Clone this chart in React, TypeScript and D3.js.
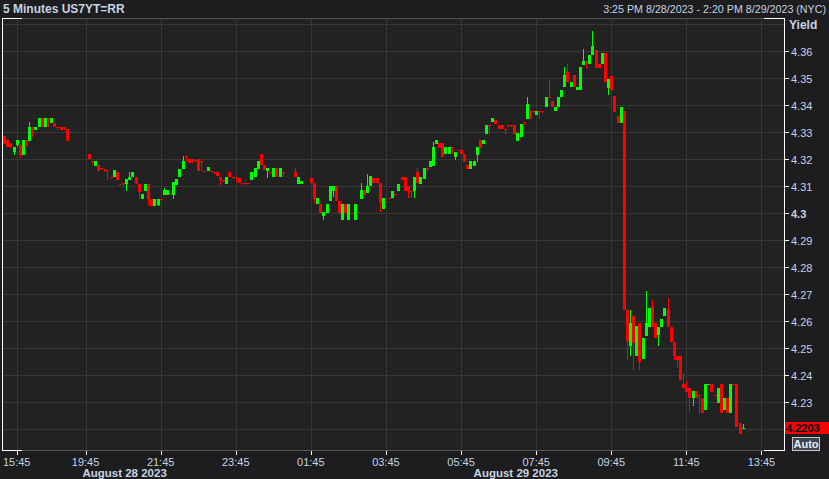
import React from "react";
import * as d3 from "d3";

const W = 829;
const H = 479;

// 5-minute bar slots (index of bar from 15:25 on 8/28)
const slot: number[] = [
  ...d3.range(0, 21),
  ...d3.range(27, 90),
  93, 94, 95,
  ...d3.range(98, 237),
];

const open: number[] = [
  4.3284,4.3271,4.3255,4.3226,4.3253,4.3253,4.3214,4.3270,4.3267,4.3320,
  4.3307,4.3320,4.3352,4.3320,4.3352,4.3333,4.3333,4.3320,4.3320,4.3320,
  4.3311,
  4.3218,4.3192,4.3174,4.3177,4.3165,4.3162,4.3160,4.3133,4.3133,4.3152,
  4.3109,4.3110,4.3107,4.3122,4.3133,4.3133,4.3107,4.3053,4.3081,4.3109,
  4.3053,4.3026,4.3030,4.3053,4.3066,4.3066,4.3075,4.3066,4.3105,4.3135,
  4.3162,4.3211,4.3200,4.3201,4.3195,4.3201,4.3192,4.3156,4.3155,4.3156,
  4.3151,4.3151,4.3135,4.3122,4.3107,4.3151,4.3132,4.3132,4.3128,4.3110,
  4.3110,4.3110,4.3122,4.3135,4.3162,4.3218,4.3179,4.3155,4.3150,4.3135,
  4.3165,4.3135,4.3150,
  4.3152,4.3107,4.3107,
  4.3128,4.3110,4.3034,4.3032,4.2988,4.2999,4.3046,4.3083,4.3099,4.3046,
  4.2973,4.3032,4.2973,4.3000,4.2973,4.3003,4.3053,4.3085,4.3075,4.3100,
  4.3128,4.3128,4.3110,4.3013,4.3042,4.3057,4.3057,4.3069,4.3081,4.3135,
  4.3135,4.3099,4.3081,4.3081,4.3152,4.3107,4.3125,4.3165,4.3172,4.3175,
  4.3255,4.3259,4.3259,4.3218,4.3218,4.3243,4.3206,4.3233,4.3233,4.3218,
  4.3177,4.3162,4.3174,4.3214,4.3271,4.3255,4.3292,4.3326,4.3336,4.3345,
  4.3326,4.3326,4.3311,4.3326,4.3326,4.3326,4.3268,4.3282,4.3336,4.3349,
  4.3377,4.3377,4.3362,4.3377,4.3377,4.3392,4.3429,4.3417,4.3377,4.3392,
  4.3429,4.3468,4.3524,4.3468,4.3513,4.3456,4.3456,4.3550,4.3565,4.3553,
  4.3587,4.3606,4.3553,4.3553,4.3593,4.3465,4.3509,4.3433,4.3358,4.3334,
  4.3379,4.2641,4.2505,4.2619,4.2468,4.2592,4.2458,4.2542,4.2577,4.2654,
  4.2593,4.2548,4.2577,4.2616,4.2644,4.2577,4.2520,4.2468,4.2468,4.2366,
  4.2350,4.2350,4.2313,4.2340,4.2325,4.2313,4.2267,4.2360,4.2366,4.2325,
  4.2294,4.2366,4.2267,4.2313,4.2257,4.2366,4.2366,4.2220,4.2198,
];

const high: number[] = [
  4.3286,4.3275,4.3258,4.3245,4.3270,4.3255,4.3270,4.3270,4.3336,4.3320,
  4.3320,4.3352,4.3352,4.3352,4.3352,4.3352,4.3333,4.3320,4.3320,4.3320,
  4.3311,
  4.3218,4.3192,4.3192,4.3177,4.3165,4.3162,4.3160,4.3133,4.3160,4.3152,
  4.3109,4.3110,4.3125,4.3150,4.3152,4.3133,4.3107,4.3069,4.3109,4.3109,
  4.3053,4.3053,4.3053,4.3053,4.3092,4.3085,4.3075,4.3114,4.3127,4.3162,
  4.3211,4.3211,4.3200,4.3201,4.3195,4.3201,4.3192,4.3156,4.3172,4.3156,
  4.3151,4.3151,4.3135,4.3122,4.3135,4.3151,4.3132,4.3132,4.3128,4.3110,
  4.3110,4.3110,4.3150,4.3168,4.3191,4.3218,4.3179,4.3166,4.3150,4.3165,
  4.3165,4.3165,4.3150,
  4.3168,4.3135,4.3120,
  4.3128,4.3110,4.3055,4.3032,4.3003,4.3032,4.3099,4.3099,4.3099,4.3046,
  4.3032,4.3032,4.3032,4.3000,4.3032,4.3003,4.3110,4.3085,4.3144,4.3137,
  4.3128,4.3128,4.3110,4.3057,4.3042,4.3057,4.3081,4.3069,4.3109,4.3135,
  4.3135,4.3099,4.3081,4.3135,4.3165,4.3135,4.3165,4.3165,4.3193,4.3262,
  4.3271,4.3259,4.3259,4.3243,4.3243,4.3243,4.3226,4.3233,4.3233,4.3218,
  4.3177,4.3193,4.3193,4.3243,4.3271,4.3271,4.3326,4.3326,4.3351,4.3345,
  4.3326,4.3326,4.3311,4.3326,4.3326,4.3326,4.3296,4.3330,4.3336,4.3429,
  4.3377,4.3377,4.3377,4.3377,4.3377,4.3429,4.3497,4.3417,4.3392,4.3429,
  4.3457,4.3540,4.3552,4.3485,4.3513,4.3468,4.3540,4.3609,4.3565,4.3587,
  4.3676,4.3606,4.3553,4.3594,4.3593,4.3497,4.3509,4.3433,4.3358,4.3392,
  4.3379,4.2641,4.2641,4.2619,4.2579,4.2592,4.2536,4.2712,4.2648,4.2678,
  4.2593,4.2577,4.2605,4.2648,4.2685,4.2577,4.2520,4.2468,4.2468,4.2405,
  4.2375,4.2350,4.2340,4.2340,4.2325,4.2313,4.2366,4.2366,4.2366,4.2325,
  4.2350,4.2366,4.2313,4.2313,4.2366,4.2366,4.2366,4.2220,4.2215,
];

const low: number[] = [
  4.3255,4.3243,4.3240,4.3215,4.3245,4.3203,4.3214,4.3245,4.3267,4.3280,
  4.3307,4.3320,4.3320,4.3320,4.3320,4.3333,4.3320,4.3307,4.3307,4.3307,
  4.3267,
  4.3199,4.3180,4.3174,4.3156,4.3160,4.3150,4.3122,4.3130,4.3133,4.3122,
  4.3105,4.3100,4.3081,4.3122,4.3133,4.3107,4.3053,4.3053,4.3081,4.3026,
  4.3026,4.3026,4.3026,4.3050,4.3066,4.3066,4.3070,4.3053,4.3105,4.3135,
  4.3162,4.3193,4.3187,4.3187,4.3190,4.3156,4.3156,4.3150,4.3155,4.3150,
  4.3145,4.3137,4.3105,4.3115,4.3107,4.3135,4.3125,4.3115,4.3110,4.3105,
  4.3108,4.3108,4.3122,4.3135,4.3162,4.3179,4.3160,4.3128,4.3145,4.3135,
  4.3135,4.3135,4.3135,
  4.3135,4.3107,4.3107,
  4.3110,4.3035,4.3034,4.2999,4.2973,4.2999,4.3046,4.3060,4.3046,4.2999,
  4.2973,4.2999,4.2973,4.2995,4.2973,4.3000,4.3053,4.3068,4.3075,4.3100,
  4.3110,4.3110,4.3004,4.3013,4.3038,4.3050,4.3057,4.3065,4.3081,4.3122,
  4.3081,4.3057,4.3057,4.3057,4.3110,4.3107,4.3125,4.3150,4.3172,4.3175,
  4.3255,4.3239,4.3206,4.3218,4.3218,4.3218,4.3197,4.3230,4.3218,4.3189,
  4.3162,4.3162,4.3174,4.3189,4.3240,4.3255,4.3292,4.3292,4.3336,4.3331,
  4.3311,4.3311,4.3292,4.3320,4.3320,4.3292,4.3268,4.3282,4.3326,4.3349,
  4.3349,4.3370,4.3362,4.3349,4.3370,4.3392,4.3429,4.3392,4.3377,4.3392,
  4.3429,4.3468,4.3485,4.3468,4.3468,4.3456,4.3456,4.3550,4.3538,4.3553,
  4.3587,4.3538,4.3538,4.3553,4.3485,4.3436,4.3456,4.3375,4.3334,4.3334,
  4.2641,4.2456,4.2468,4.2418,4.2468,4.2418,4.2458,4.2542,4.2577,4.2577,
  4.2536,4.2505,4.2577,4.2616,4.2577,4.2520,4.2455,4.2430,4.2381,4.2350,
  4.2335,4.2263,4.2285,4.2313,4.2255,4.2257,4.2267,4.2360,4.2335,4.2320,
  4.2294,4.2257,4.2267,4.2257,4.2257,4.2360,4.2207,4.2180,4.2198,
];

const close: number[] = [
  4.3255,4.3243,4.3243,4.3245,4.3270,4.3214,4.3270,4.3253,4.3319,4.3320,
  4.3320,4.3352,4.3320,4.3352,4.3352,4.3352,4.3320,4.3320,4.3307,4.3320,
  4.3267,
  4.3199,4.3192,4.3192,4.3156,4.3165,4.3162,4.3160,4.3133,4.3160,4.3122,
  4.3109,4.3110,4.3125,4.3135,4.3152,4.3107,4.3076,4.3069,4.3109,4.3053,
  4.3026,4.3053,4.3053,4.3053,4.3085,4.3085,4.3075,4.3114,4.3127,4.3162,
  4.3193,4.3211,4.3187,4.3192,4.3195,4.3156,4.3192,4.3156,4.3172,4.3156,
  4.3151,4.3137,4.3122,4.3122,4.3135,4.3135,4.3132,4.3132,4.3110,4.3110,
  4.3110,4.3110,4.3150,4.3168,4.3191,4.3179,4.3160,4.3166,4.3150,4.3165,
  4.3135,4.3165,4.3150,
  4.3135,4.3135,4.3120,
  4.3110,4.3050,4.3055,4.2999,4.3003,4.3032,4.3099,4.3099,4.3046,4.2999,
  4.3032,4.2999,4.3032,4.3000,4.3032,4.3003,4.3085,4.3068,4.3100,4.3137,
  4.3110,4.3110,4.3035,4.3057,4.3042,4.3057,4.3081,4.3069,4.3109,4.3122,
  4.3081,4.3081,4.3081,4.3135,4.3110,4.3135,4.3165,4.3165,4.3193,4.3243,
  4.3271,4.3239,4.3206,4.3243,4.3243,4.3243,4.3226,4.3233,4.3218,4.3189,
  4.3162,4.3193,4.3193,4.3243,4.3240,4.3271,4.3326,4.3326,4.3351,4.3331,
  4.3311,4.3311,4.3311,4.3326,4.3326,4.3292,4.3296,4.3330,4.3336,4.3404,
  4.3349,4.3377,4.3377,4.3377,4.3377,4.3429,4.3429,4.3392,4.3392,4.3429,
  4.3457,4.3513,4.3485,4.3485,4.3468,4.3468,4.3540,4.3565,4.3565,4.3587,
  4.3619,4.3538,4.3538,4.3594,4.3485,4.3497,4.3456,4.3375,4.3334,4.3392,
  4.2641,4.2523,4.2592,4.2517,4.2579,4.2446,4.2536,4.2592,4.2648,4.2577,
  4.2536,4.2577,4.2605,4.2648,4.2577,4.2520,4.2468,4.2455,4.2381,4.2350,
  4.2335,4.2313,4.2340,4.2313,4.2325,4.2257,4.2366,4.2366,4.2335,4.2325,
  4.2350,4.2257,4.2313,4.2257,4.2366,4.2366,4.2207,4.2180,4.2203,
];

const yTickVals = [4.36, 4.35, 4.34, 4.33, 4.32, 4.31, 4.3, 4.29, 4.28, 4.27, 4.26, 4.25, 4.24, 4.23];
const yTickLabels = ["4.36", "4.35", "4.34", "4.33", "4.32", "4.31", "4.3", "4.29", "4.28", "4.27", "4.26", "4.25", "4.24", "4.23"];
const gridVals = [4.37, 4.36, 4.35, 4.34, 4.33, 4.32, 4.31, 4.3, 4.29, 4.28, 4.27, 4.26, 4.25, 4.24, 4.23, 4.22];
const xTickSlots = [4, 26, 50, 74, 98, 122, 146, 170, 194, 218, 242];
const xTickLabels = ["15:45", "19:45", "21:45", "23:45", "01:45", "03:45", "05:45", "07:45", "09:45", "11:45", "13:45"];
const dateSlots = [25, 150];
const dateLabels = ["August 28 2023", "August 29 2023"];
const lastPrice = 4.2203;
const title = "5 Minutes US7YT=RR";
const rangeText = "3:25 PM 8/28/2023 - 2:20 PM 8/29/2023 (NYC)";

const UP = "#00ff00";
const DOWN = "#ff0000";
const TXT = "#c6d3e2";
const FONT = "'Liberation Sans', Arial, sans-serif";

export default function App() {
  const left = 2, right = 784, top = 18, bottom = 450;
  const x = d3.scaleLinear().domain([-0.7, 249.2]).range([left, right]);
  const y = d3.scaleLinear().domain([4.22, 4.36]).range([428.5, 51.2]);

  const candles = slot.map((s, i) => {
    const o = open[i], c = close[i], h = high[i], l = low[i];
    const up = c > o;
    const cx = Math.round(x(s));
    const yTop = Math.round(y(Math.max(o, c)));
    const yBot = Math.round(y(Math.min(o, c)));
    const hgt = Math.max(1, yBot - yTop);
    const col = up ? UP : DOWN;
    return (
      <g key={s}>
        <rect x={cx} y={Math.round(y(h))} width={1} height={Math.max(1, Math.round(y(l)) - Math.round(y(h)))} fill={col} />
        <rect x={cx - 1} y={yTop} width={3} height={hgt} fill={col} />
      </g>
    );
  });

  return (
    <svg width={W} height={H} style={{ position: "fixed", left: 0, top: 0 }} shapeRendering="crispEdges">
      <rect x={0} y={0} width={W} height={H} fill="#1d1d1f" />
      <rect x={left} y={top} width={right - left} height={bottom - top} fill="#212221" />
      {/* grid */}
      {gridVals.map((v) => (
        <line key={"g" + v} x1={left} x2={right} y1={Math.round(y(v)) + 0.5} y2={Math.round(y(v)) + 0.5} stroke="#363736" strokeWidth={1} />
      ))}
      {xTickSlots.map((s) => (
        <line key={"v" + s} x1={Math.round(x(s)) + 0.5} x2={Math.round(x(s)) + 0.5} y1={top} y2={bottom} stroke="#363736" strokeWidth={1} />
      ))}
      {/* frame */}
      <line x1={left} x2={right} y1={top + 0.5} y2={top + 0.5} stroke="#555555" />
      <line x1={left} x2={right} y1={bottom + 0.5} y2={bottom + 0.5} stroke="#555555" />
      <line x1={left} x2={left + 20} y1={top + 0.5} y2={top + 0.5} stroke="#ffffff" />
      <line x1={right - 20} x2={right} y1={top + 0.5} y2={top + 0.5} stroke="#ffffff" />
      <line x1={left} x2={left + 20} y1={bottom + 0.5} y2={bottom + 0.5} stroke="#ffffff" />
      <line x1={right - 20} x2={right} y1={bottom + 0.5} y2={bottom + 0.5} stroke="#ffffff" />
      <line x1={left + 0.5} x2={left + 0.5} y1={top} y2={bottom + 1} stroke="#ffffff" />
      <line x1={right + 0.5} x2={right + 0.5} y1={top} y2={bottom + 1} stroke="#ffffff" />

      {/* candles */}
      <g>{candles}</g>

      {/* y axis */}
      {yTickVals.map((v, i) => (
        <g key={"yt" + v}>
          <line x1={right} x2={right + 5} y1={Math.round(y(v)) + 0.5} y2={Math.round(y(v)) + 0.5} stroke="#ffffff" />
          <text x={791} y={Math.round(y(v)) + 5} fill={TXT} fontFamily={FONT} fontSize={11}
            fontWeight={yTickLabels[i] === "4.3" ? "bold" : "normal"} shapeRendering="auto">{yTickLabels[i]}</text>
        </g>
      ))}
      <text x={789} y={29} fill={TXT} fontFamily={FONT} fontSize={12} fontWeight="bold">Yield</text>

      {/* x axis */}
      {xTickSlots.map((s, i) => (
        <g key={"xt" + s}>
          <line x1={Math.round(x(s)) + 0.5} x2={Math.round(x(s)) + 0.5} y1={bottom + 1} y2={bottom + 5} stroke="#ffffff" />
          <text x={x(s)} y={466} textAnchor="middle" fill={TXT} fontFamily={FONT} fontSize={11}>{xTickLabels[i]}</text>
        </g>
      ))}
      {dateSlots.map((s, i) => (
        <text key={"d" + s} x={x(s)} y={477} fill={TXT} fontFamily={FONT} fontSize={11.5} fontWeight="bold">{dateLabels[i]}</text>
      ))}

      {/* header */}
      <text x={3} y={13} fill={TXT} fontFamily={FONT} fontSize={12} fontWeight="bold">{title}</text>
      <text x={826} y={13} textAnchor="end" fill={TXT} fontFamily={FONT} fontSize={10.7}>{rangeText}</text>

      {/* last price */}
      <rect x={785} y={Math.round(y(lastPrice)) - 6} width={44} height={12} fill="#ff0000" />
      <text x={786} y={Math.round(y(lastPrice)) + 4} fill="#000000" fontFamily={FONT} fontSize={11} fontWeight="bold">{lastPrice.toFixed(4)}</text>

      {/* Auto button */}
      <rect x={792.5} y={437.5} width={27} height={13} fill="#3e4450" stroke="#c8c8c8" />
      <text x={806} y={448} textAnchor="middle" fill="#e6eef8" fontFamily={FONT} fontSize={11} fontWeight="bold">Auto</text>
    </svg>
  );
}
